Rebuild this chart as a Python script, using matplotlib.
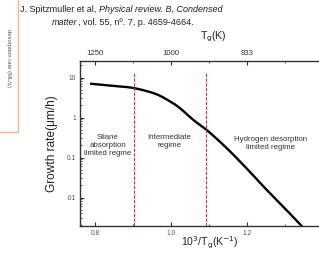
import numpy as np
import matplotlib.pyplot as plt
from matplotlib.patches import Rectangle
from matplotlib.ticker import FixedLocator, FixedFormatter, LogLocator, NullFormatter

plt.rcParams['font.family'] = ['Liberation Sans', 'DejaVu Sans']

# data (x = 1000/Tg, y = growth rate in um/h)
inv_t = [0.787, 0.85, 0.901, 0.958, 0.997, 1.024, 1.059, 1.094, 1.147, 1.203, 1.247, 1.30, 1.344, 1.36]
rate = [7.0, 6.13, 5.46, 3.94, 2.54, 1.70, 0.866, 0.487, 0.170, 0.0487, 0.0173, 0.0053, 0.00194, 0.00134]

regime_bounds = [0.9013, 1.0925]
regime_labels = ['Silane\nabsorption\nlimited regme', 'Intermediate\nregime',
                 'Hydrogen desorption\nlimited regime']
regime_label_x = [0.833, 0.995, 1.262]
regime_label_y = [0.205, 0.254, 0.22]

bottom_ticks = [0.8, 1.0, 1.2]
bottom_labels = ['0.8', '1.0', '1.2']
top_labels = ['1250', '1000', '833']
y_ticks = [10, 1, 0.1, 0.01]
y_labels = ['10', '1', '0.1', '.01']


def smooth(xs, ys, n=12):
    # catmull-rom through the read points, in (x, log y) space
    x = np.asarray(xs, float)
    y = np.log10(ys)
    px = np.concatenate([[2 * x[0] - x[1]], x, [2 * x[-1] - x[-2]]])
    py = np.concatenate([[2 * y[0] - y[1]], y, [2 * y[-1] - y[-2]]])
    ox, oy = [], []
    for i in range(1, len(px) - 2):
        t = np.linspace(0, 1, n, endpoint=False)
        for p, out in ((px, ox), (py, oy)):
            p0, p1, p2, p3 = p[i - 1], p[i], p[i + 1], p[i + 2]
            out.extend(0.5 * (2 * p1 + (-p0 + p2) * t + (2 * p0 - 5 * p1 + 4 * p2 - p3) * t ** 2
                              + (-p0 + 3 * p1 - 3 * p2 + p3) * t ** 3))
    ox.append(x[-1])
    oy.append(y[-1])
    return np.array(ox), 10 ** np.array(oy)


W, H = 319, 274
fig = plt.figure(figsize=(W / 100, H / 100), dpi=100)

# axes box in pixels: left 80, right 319, top 60.5, bottom 226
ax = fig.add_axes([80 / W, 1 - 226 / H, (W - 80) / W, (226 - 60.5) / H])
ax.set_yscale('log')
ax.set_xlim(0.7605, 0.7605 + (W - 80) / 380)
ax.set_ylim(0.01 / 10 ** (28.5 / 40), 10 * 10 ** (17 / 40))

cx, cy = smooth(inv_t, rate)
ax.plot(cx, cy, color='black', lw=1.7, solid_capstyle='butt')
for xb in regime_bounds:
    ax.plot([xb, xb], [ax.get_ylim()[0], 13], color='#ee2a36', lw=0.8, ls=(0, (3, 1.2)))

for lab, xl, yl in zip(regime_labels, regime_label_x, regime_label_y):
    ax.text(xl, yl, lab, ha='center', va='center', fontsize=5.7, color='#333333',
            linespacing=1.2)

ax.spines['right'].set_visible(False)
for s in ['left', 'bottom', 'top']:
    ax.spines[s].set_linewidth(1.0)
    ax.spines[s].set_color('#333333')

ax.xaxis.set_major_locator(FixedLocator(bottom_ticks))
ax.xaxis.set_major_formatter(FixedFormatter(bottom_labels))
ax.xaxis.set_minor_locator(FixedLocator([0.9, 1.1, 1.3]))
ax.yaxis.set_major_locator(FixedLocator(y_ticks))
ax.yaxis.set_major_formatter(FixedFormatter(y_labels))
ax.yaxis.set_minor_locator(LogLocator(base=10, subs=np.arange(2, 10)))
ax.yaxis.set_minor_formatter(NullFormatter())
ax.tick_params(which='both', direction='in', colors='#333333', labelcolor='#555555',
               labelsize=4.8, right=False)
ax.tick_params(which='major', length=3, width=0.8, pad=3)
ax.tick_params(which='minor', length=1.6, width=0.6)
ax.tick_params(axis='x', which='both', top=True, labeltop=False)

top = ax.secondary_xaxis('top')
top.xaxis.set_major_locator(FixedLocator(bottom_ticks))
top.xaxis.set_major_formatter(FixedFormatter(top_labels))
top.tick_params(length=0, labelsize=5.6, pad=2.5, labelcolor='#333333')
top.spines['top'].set_visible(False)

ax.set_ylabel('Growth rate(μm/h)', fontsize=8.6, color='#222222')
ax.yaxis.set_label_coords(-22 / 239, 0.5)
fig.text(210 / W, 1 - 243 / H, r'10$^{3}$/T$_{\rm g}$(K$^{-1}$)', fontsize=7.6,
         ha='center', va='center', color='#222222')
fig.text(213 / W, 1 - 37 / H, r'T$_{\rm g}$(K)', fontsize=7.6,
         ha='center', va='center', color='#222222')

# citation line, with italic parts
renderer = fig.canvas.get_renderer()


def write_parts(x_px, y_px, parts):
    x = x_px / W
    for txt, style in parts:
        t = fig.text(x, 1 - y_px / H, txt, fontsize=6.5, style=style,
                     ha='left', va='center', color='#222222')
        x += t.get_window_extent(renderer).width / W


write_parts(20, 9.5, [('J. Spitzmuller et al, ', 'normal'),
                      ('Physical review. B, Condensed', 'italic')])
write_parts(52, 22.5, [('matter', 'italic'),
                       (', vol. 55, nº. 7, p. 4659-4664.', 'normal')])

# orange panel cut off at the left edge
fig.patches.append(Rectangle((-0.02, 1 - 132 / H), 18 / W + 0.02, 132 / H + 0.02,
                             transform=fig.transFigure, fill=False,
                             edgecolor='#f2b88a', lw=1.0))
fig.text(8 / W, 1 - 58 / H, 'desorption rate (ML/s)', fontsize=4.2, rotation=-90,
         ha='center', va='center', color='#555555')

fig.savefig('out.png', dpi=100)
